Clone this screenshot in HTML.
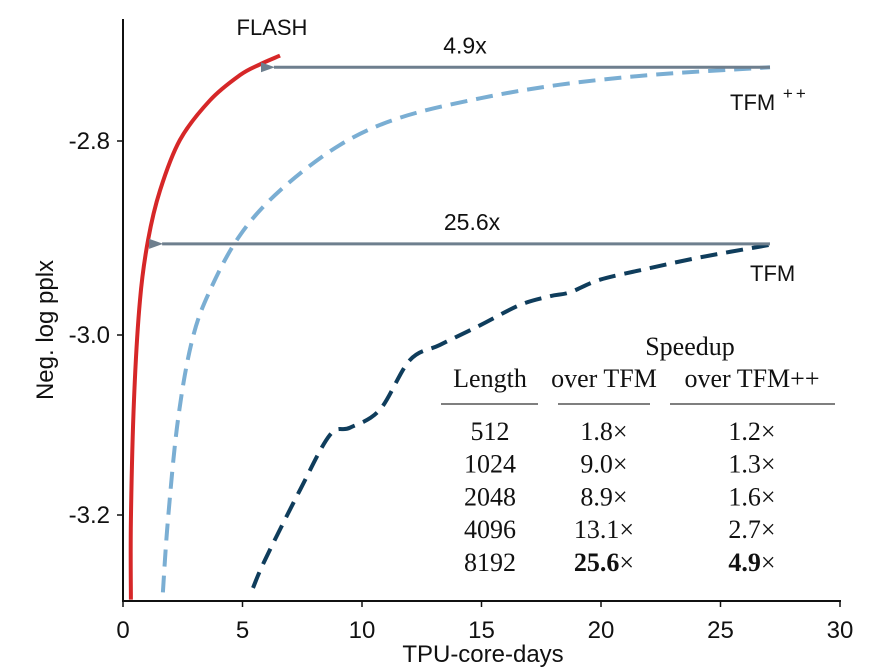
<!DOCTYPE html>
<html><head><meta charset="utf-8"><style>
body{margin:0;background:#fff;}
svg{display:block;}
.s{font-family:"Liberation Sans","DejaVu Sans",sans-serif;}
.t{font-family:"Liberation Serif",serif;font-size:26px;fill:#111;}
</style></head><body>
<svg id="c" width="887" height="672" xmlns="http://www.w3.org/2000/svg">
<defs><marker id="ah" markerWidth="14" markerHeight="10" refX="1" refY="5" orient="auto" markerUnits="userSpaceOnUse"><path d="M14,0 L0,5 L14,10 Z" fill="#6e7f8e"/></marker></defs>
<g id="plot"></g>
</svg>
<script>
const xTicks=[0,5,10,15,20,25,30];
const yTicks=[-2.8,-3.0,-3.2];
const yTickLabels=["-2.8","-3.0","-3.2"];
const flashX=[0.33,0.33,0.46,0.71,1.05,1.55,2.38,3.64,4.9,5.73,6.57];
const flashY=[-3.294,-3.206,-3.072,-2.964,-2.902,-2.851,-2.799,-2.758,-2.732,-2.721,-2.712];
const tfmppX=[1.67,1.88,2.30,2.89,3.64,4.90,6.57,9.08,11.59,14.94,18.28,22.05,27.07];
const tfmppY=[-3.286,-3.206,-3.094,-3.006,-2.954,-2.897,-2.851,-2.804,-2.776,-2.756,-2.742,-2.732,-2.724];
const tfmX=[5.44,5.94,7.41,8.66,9.50,10.75,12.0,13.26,14.94,16.61,17.87,18.7,19.96,22.05,24.14,27.07];
const tfmY=[-3.281,-3.25,-3.172,-3.111,-3.103,-3.083,-3.028,-3.011,-2.990,-2.969,-2.960,-2.956,-2.943,-2.931,-2.920,-2.907];
const arrowStartX=[27.07,27.07];
const arrowEndX=[5.73,1.05];
const arrowY=[-2.724,-2.906];
const arrowLabels=["4.9x","25.6x"];
const tableLengths=["512","1024","2048","4096","8192"];
const tableTFM=["1.8","9.0","8.9","13.1","25.6"];
const tableTFMpp=["1.2","1.3","1.6","2.7","4.9"];

const NS="http://www.w3.org/2000/svg";
const g=document.getElementById('plot');
function X(v){return 123+v*23.9;}
function Y(v){
  if(v>=-3.0) return 335+(-3.0-v)/0.2*194;
  return 335+(-3.0-v)/0.2*180;
}
function mk(tag,attrs,parent){const e=document.createElementNS(NS,tag);for(const k in attrs)e.setAttribute(k,attrs[k]);(parent||g).appendChild(e);return e;}
function txt(x,y,s,cls,extra){const e=mk('text',Object.assign({x:x,y:y,class:cls},extra||{}));e.textContent=s;return e;}

let ax=mk('line',{x1:123,y1:19,x2:123,y2:601,stroke:'#111','stroke-width':2});


let ax2=mk('line',{x1:122,y1:601,x2:841,y2:601,stroke:'#111','stroke-width':2});


xTicks.forEach((v,i)=>{
  mk('line',{x1:X(v),y1:601,x2:X(v),y2:607,stroke:'#111','stroke-width':1.5});
  const t=txt(X(v),638,String(v),'s',{'font-size':24,'text-anchor':'middle',fill:'#111'});
  
  
});
yTicks.forEach((v,i)=>{
  mk('line',{x1:117,y1:Y(v),x2:123,y2:Y(v),stroke:'#111','stroke-width':1.5});
  const t=txt(110,Y(v)+8,yTickLabels[i],'s',{'font-size':24,'text-anchor':'end',fill:'#111'});
  
  
});
let xt=txt(483,662,'TPU-core-days','s',{'font-size':24,'text-anchor':'middle',fill:'#111'});


let yt=txt(0,0,'Neg. log pplx','s',{'font-size':24,'text-anchor':'middle',fill:'#111',transform:'translate(53,330) rotate(-90)'});



function smooth(pts){
  let d='M'+pts[0][0].toFixed(1)+','+pts[0][1].toFixed(1);
  for(let i=0;i<pts.length-1;i++){
    const p0=pts[Math.max(0,i-1)],p1=pts[i],p2=pts[i+1],p3=pts[Math.min(pts.length-1,i+2)];
    const c1=[p1[0]+(p2[0]-p0[0])/6,p1[1]+(p2[1]-p0[1])/6];
    const c2=[p2[0]-(p3[0]-p1[0])/6,p2[1]-(p3[1]-p1[1])/6];
    d+=' C'+c1.map(v=>v.toFixed(1)).join(',')+' '+c2.map(v=>v.toFixed(1)).join(',')+' '+p2[0].toFixed(1)+','+p2[1].toFixed(1);
  }
  return d;
}
function line(xs,ys,color,dash,name){
  const pts=xs.map((x,i)=>[X(x),Y(ys[i])]);
  const p=mk('path',{d:smooth(pts),fill:'none',stroke:color,'stroke-width':4,'stroke-linejoin':'round'});
  if(dash)p.setAttribute('stroke-dasharray',dash);
  
  
}
line(tfmppX,tfmppY,'#7aaed3','17,9','tfm-plus-plus-line');
line(tfmX,tfmY,'#0f3d5c','17,9','tfm-line');
line(flashX,flashY,'#d62728',null,'flash-line');

arrowY.forEach((v,i)=>{
  const a=mk('line',{x1:X(arrowStartX[i]),y1:Y(v),x2:X(arrowEndX[i])+14,y2:Y(v),stroke:'#6e7f8e','stroke-width':3,'marker-end':'url(#ah)'});
  
  
  const l=txt(i===0?465:472,Y(v)-14,arrowLabels[i],'s',{'font-size':23,'text-anchor':'middle',fill:'#111'});
  
  
});
let l1=txt(272,35,'FLASH','s',{'font-size':22,'text-anchor':'middle',fill:'#111'});


let l2=txt(730,110,'TFM','s',{'font-size':22,fill:'#111'});


let sup=mk('tspan',{dy:-11,'font-size':17,'letter-spacing':3},l2);sup.textContent=' ++';
let l3=txt(750,281,'TFM','s',{'font-size':22,fill:'#111'});



let tb=mk('g',{});


const sp=mk('text',{x:690,y:355,class:'t','text-anchor':'middle'},tb);sp.textContent='Speedup';
[[490,'Length'],[604,'over TFM'],[752,'over TFM++']].forEach(h=>{const e=mk('text',{x:h[0],y:387,class:'t','text-anchor':'middle'},tb);e.textContent=h[1];});
[[441,538],[558,650],[670,835]].forEach(s=>mk('line',{x1:s[0],y1:404,x2:s[1],y2:404,stroke:'#555','stroke-width':1.5},tb));
tableLengths.forEach((L,i)=>{
  const y=440+i*32.7;
  const bold=i===tableLengths.length-1;
  let e=mk('text',{x:490,y:y,class:'t','text-anchor':'middle'},tb);e.textContent=L;
  e=mk('text',{x:604,y:y,class:'t','text-anchor':'middle'},tb);
  let s=mk('tspan',{'font-weight':bold?'bold':'normal'},e);s.textContent=tableTFM[i];
  s=mk('tspan',{},e);s.textContent='\u00d7';
  e=mk('text',{x:752,y:y,class:'t','text-anchor':'middle'},tb);
  s=mk('tspan',{'font-weight':bold?'bold':'normal'},e);s.textContent=tableTFMpp[i];
  s=mk('tspan',{},e);s.textContent='\u00d7';
});
</script>
</body></html>
